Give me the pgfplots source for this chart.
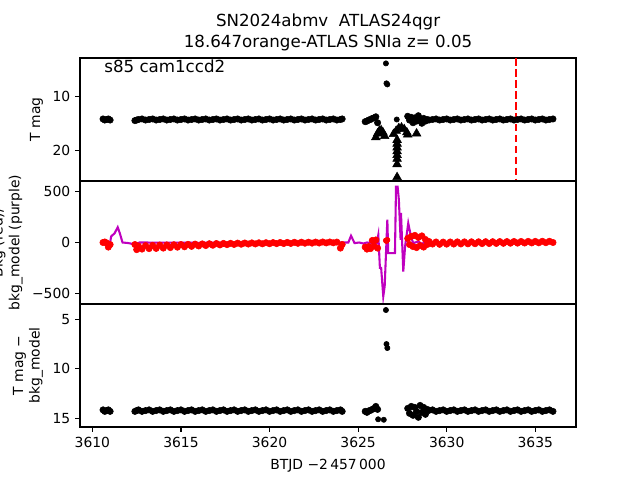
\documentclass[border=0pt]{standalone}
\usepackage{fontspec}
\setmainfont{DejaVu Sans}
\usepackage{pgfplots}
\usepackage{pgfplotstable}
\pgfplotsset{compat=1.18}

% t, T mag, bkg, T mag - bkg_model
\pgfplotstableread{
t mag bkg dmag
3610.6 14.1 0 14.15
3610.7 14.3 5 14.3
3610.8 14.2 -5 14.22
3610.9 14.1 -45 14.15
3611.0 14.3 -20 14.3
3612.4 14.4 -20 14.3
3612.5 14.3 -70 14.22
3612.6 14.2 -35 14.15
3612.8 14.1 -65 14.3
3613.0 14.3 -30 14.22
3613.2 14.2 -60 14.15
3613.4 14.1 -28 14.3
3613.6 14.3 -58 14.22
3613.8 14.2 -25 14.15
3614.0 14.1 -55 14.3
3614.2 14.3 -24 14.22
3614.4 14.2 -50 14.15
3614.6 14.1 -22 14.3
3614.8 14.3 -46 14.22
3615.0 14.2 -20 14.15
3615.2 14.1 -42 14.3
3615.4 14.3 -18 14.22
3615.6 14.2 -38 14.15
3615.8 14.1 -16 14.3
3616.0 14.3 -34 14.22
3616.2 14.2 -14 14.15
3616.4 14.1 -30 14.3
3616.6 14.3 -12 14.22
3616.8 14.2 -27 14.15
3617.0 14.1 -10 14.3
3617.2 14.3 -24 14.22
3617.4 14.2 -9 14.15
3617.6 14.1 -21 14.3
3617.8 14.3 -8 14.22
3618.0 14.2 -19 14.15
3618.2 14.1 -6 14.3
3618.4 14.3 -17 14.22
3618.6 14.2 -5 14.15
3618.8 14.1 -15 14.3
3619.0 14.3 -4 14.22
3619.2 14.2 -14 14.15
3619.4 14.1 -3 14.3
3619.6 14.3 -13 14.22
3619.8 14.2 -2 14.15
3620.0 14.1 -12 14.3
3620.2 14.3 -1 14.22
3620.4 14.2 -11 14.15
3620.6 14.1 0 14.3
3620.8 14.3 -10 14.22
3621.0 14.2 1 14.15
3621.2 14.1 -9 14.3
3621.4 14.3 2 14.22
3621.6 14.2 -8 14.15
3621.8 14.1 3 14.3
3622.0 14.3 -7 14.22
3622.2 14.2 3 14.15
3622.4 14.1 -6 14.3
3622.6 14.3 4 14.22
3622.8 14.2 -5 14.15
3623.0 14.1 5 14.3
3623.2 14.3 -4 14.22
3623.4 14.2 5 14.15
3623.6 14.1 -3 14.3
3623.8 14.3 4 14.22
3624.0 14.2 -55 14.15
3624.1 14.1 -20 14.3
3625.4 14.6 -45 14.3
3625.5 14.5 -65 14.4
3625.6 14.3 -40 14.25
3625.7 14.2 -60 14.2
3625.8 14.0 20 14.1
3625.9 13.9 -35 14.0
3626.0 13.7 25 13.8
3626.1 14.8 -55 14.1
3627.8 13.6 40 14.0
3627.9 14.3 -20 14.5
3628.0 13.8 60 13.8
3628.1 14.8 -40 14.7
3628.2 13.9 70 13.9
3628.3 14.5 -50 14.3
3628.4 13.5 50 14.9
3628.5 14.2 -30 13.7
3628.6 14.9 65 14.4
3628.7 14.0 -45 13.9
3628.8 14.5 30 14.6
3628.9 14.2 -20 14.1
3629.0 14.3 10 14.2
3629.2 14.2 -15 14.15
3629.4 14.1 5 14.3
3629.6 14.3 -18 14.22
3629.8 14.2 4 14.15
3630.0 14.1 -16 14.3
3630.2 14.3 5 14.22
3630.4 14.2 -15 14.15
3630.6 14.1 6 14.3
3630.8 14.3 -14 14.22
3631.0 14.2 6 14.15
3631.2 14.1 -13 14.3
3631.4 14.3 7 14.22
3631.6 14.2 -12 14.15
3631.8 14.1 7 14.3
3632.0 14.3 -11 14.22
3632.2 14.2 8 14.15
3632.4 14.1 -10 14.3
3632.6 14.3 8 14.22
3632.8 14.2 -9 14.15
3633.0 14.1 9 14.3
3633.2 14.3 -8 14.22
3633.4 14.2 9 14.15
3633.6 14.1 -7 14.3
3633.8 14.3 10 14.22
3634.0 14.2 -6 14.15
3634.2 14.1 10 14.3
3634.4 14.3 -5 14.22
3634.6 14.2 11 14.15
3634.8 14.1 -4 14.3
3635.0 14.3 11 14.22
3635.2 14.2 -3 14.15
3635.4 14.1 12 14.3
3635.6 14.3 -2 14.22
3635.8 14.2 12 14.15
3636.0 14.1 0 14.3
}\lcdata

% bright points at the peak
\pgfplotstableread{
t mag bkg dmag
3626.57 3.8 20 4.06
3626.60 7.5 15 7.5
3626.65 7.7 25 7.9
}\peakdata

% upper limits (T mag)
\pgfplotstableread{
t mag
3626.0 17.5
3626.1 16.8
3626.2 16.3
3626.3 16.2
3626.4 16.6
3626.5 17.3
3627.2 18.0
3627.2 18.7
3627.2 19.4
3627.2 20.1
3627.2 20.8
3627.2 21.5
3627.2 22.5
3627.2 24.9
3627.0 16.9
3627.15 16.3
3627.3 15.8
3627.45 15.7
3627.6 16.0
3627.75 16.6
3627.8 17.0
3628.3 16.8
}\ulimdata

% bkg_model
\pgfplotstableread{
t bkg
3610.6 0
3611.0 0
3611.06 60
3611.25 90
3611.43 150
3611.55 90
3611.7 0
3612.0 -5
3612.4 -18
3612.66 0
3616.0 -3
3620.0 0
3624.45 0
3624.6 66
3624.8 -6
3625.06 0
3625.3 -10
3625.5 0
3626.05 -6
3626.14 75
3626.23 -250
3626.3 -250
3626.42 -530
3626.5 -430
3626.65 225
3626.7 -105
3627.08 -105
3627.14 550
3627.23 550
3627.3 420
3627.4 25
3627.42 290
3627.55 -285
3627.65 -40
3627.83 190
3628.0 45
3628.12 -6
3628.4 10
3628.6 -15
3628.72 0
3628.9 0
3636.0 5
}\modeldata

\definecolor{mplmag}{rgb}{0.75,0,0.75}

\pgfplotsset{panel/.style={
  scale only axis, width=357.12pt, height=88.56pt,
  xmin=3609.3, xmax=3637.3,
  axis line style={line width=0.8pt},
  tick align=outside, major tick length=3.5pt,
  every tick/.style={line width=0.8pt, black},
  tick pos=left,
  scaled ticks=false,
  /pgf/number format/1000 sep={},
  /pgf/number format/assume math mode=true,
  tick label style={font=\fontsize{10}{12}\selectfont},
  label style={font=\fontsize{10}{12}\selectfont},
  ylabel style={align=center},
  xlabel style={yshift=-1.5pt},
}}

\begin{document}
\begin{tikzpicture}

% top: T mag
\begin{axis}[panel, at={(57.6pt,215.28pt)}, anchor=south west,
  y dir=reverse, ymin=2.8, ymax=25.6, ytick={10,20},
  xtick=\empty, ylabel={T mag}]
\addplot[only marks, mark=*, mark size=2.3pt, black] table[x=t, y=mag] {\lcdata};
\addplot[only marks, mark=*, mark size=1.9pt, black] table[x=t, y=mag] {\peakdata};
\addplot[only marks, mark=*, mark size=1.9pt, black] coordinates {(3627.18,14.2)};
\addplot[only marks, mark=triangle*, mark size=3.6pt, black] table[x=t, y=mag] {\ulimdata};
\addplot[red, line width=1.5pt, dash pattern=on 5.5pt off 2.4pt] coordinates {(3633.9,2.8) (3633.9,25.6)};
\node[anchor=center, font=\fontsize{12}{14}\selectfont] at (rel axis cs:0.171,0.93) {s85 cam1ccd2};
\end{axis}

% middle: bkg
\begin{axis}[panel, at={(57.6pt,126.72pt)}, anchor=south west,
  ymin=-605, ymax=605, ytick={-500,0,500}, yticklabels={−500,0,500},
  xtick=\empty, ylabel={Bkg (red)/\\bkg\_model (purple)}]
\addplot[only marks, mark=*, mark size=2.3pt, red] table[x=t, y=bkg] {\lcdata};
\addplot[only marks, mark=*, mark size=1.9pt, red] table[x=t, y=bkg] {\peakdata};
\addplot[mplmag, line width=1.5pt] table[x=t, y=bkg] {\modeldata};
\end{axis}

% bottom: T mag - bkg_model
\begin{axis}[panel, at={(57.6pt,38.16pt)}, anchor=south west,
  y dir=reverse, ymin=3.45, ymax=15.88, ytick={5,10,15},
  xtick={3610,3615,3620,3625,3630,3635},
  xlabel={BTJD −2\,457\,000}, ylabel={T mag −\\bkg\_model}]
\addplot[only marks, mark=*, mark size=2.3pt, black] table[x=t, y=dmag] {\lcdata};
\addplot[only marks, mark=*, mark size=1.9pt, black] table[x=t, y=dmag] {\peakdata};
\addplot[only marks, mark=*, mark size=1.9pt, black] coordinates {(3626.13,15.1) (3626.45,15.15)};
\end{axis}

\node[font=\fontsize{12}{14}\selectfont] at (236.2pt,329.7pt) {SN2024abmv\ \ ATLAS24qgr};
\node[font=\fontsize{12}{14}\selectfont] at (236.2pt,314.4pt) {18.647orange-ATLAS SNIa z= 0.05};

\pgfresetboundingbox
\path[use as bounding box] (0,0) rectangle (460.8pt,345.6pt);
\end{tikzpicture}
\end{document}
